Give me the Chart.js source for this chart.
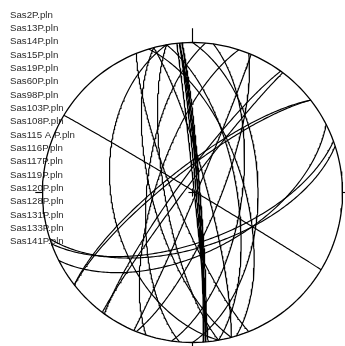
<!DOCTYPE html>
<html>
<head>
<meta charset="utf-8">
<script src="https://cdn.jsdelivr.net/npm/chart.js@4/dist/chart.umd.min.js"></script>
<style>
  html, body { margin: 0; padding: 0; background: #fff; }
</style>
</head>
<body>
<canvas id="net" width="345" height="346"></canvas>
<script>
// plane files listed next to the net
const fileNames = [
  "Sas2P.pln", "Sas13P.pln", "Sas14P.pln", "Sas15P.pln", "Sas19P.pln",
  "Sas60P.pln", "Sas98P.pln", "Sas103P.pln", "Sas108P.pln", "Sas115 A P.pln",
  "Sas116P.pln", "Sas117P.pln", "Sas119P.pln", "Sas120P.pln", "Sas128P.pln",
  "Sas131P.pln", "Sas133P.pln", "Sas141P.pln"
];

// planes as dip direction / dip (degrees)
const dipDirs = [85, 85, 86, 86, 85, 84,
                 260, 275, 255, 288, 260,
                 90, 73, 98, 80, 112, 75, 113,
                 307, 306, 322, 322, 31, 160, 162, 153, 248];
const dips    = [88, 87, 87, 86, 86, 89,
                 45, 65, 68, 70, 75,
                 54, 62, 63, 66, 75, 82, 88,
                 86, 82, 76, 78, 89, 63, 60, 57, 80];

const rad = d => d * Math.PI / 180;

// lower hemisphere, equal area (Schmidt) net
function project(x, y, z) {
  const k = 1 / Math.sqrt(1 + Math.abs(z));
  return { x: x * k, y: y * k };
}

function greatCircle(dipDir, dip) {
  const strike = rad(dipDir - 90);
  const dd = rad(dipDir), d = rad(dip);
  const s = [Math.sin(strike), Math.cos(strike), 0];
  const v = [Math.sin(dd) * Math.cos(d), Math.cos(dd) * Math.cos(d), -Math.sin(d)];
  const pts = [];
  for (let i = 0; i <= 180; i++) {
    const t = rad(i);
    const c = Math.cos(t), sn = Math.sin(t);
    pts.push(project(c * s[0] + sn * v[0], c * s[1] + sn * v[1], c * s[2] + sn * v[2]));
  }
  return pts;
}

function primitive() {
  const pts = [];
  for (let i = 0; i <= 360; i += 2) pts.push({ x: Math.sin(rad(i)), y: Math.cos(rad(i)) });
  return pts;
}

const lineStyle = { showLine: true, pointRadius: 0, borderColor: "#000", borderWidth: 1.15, fill: false, clip: false };

const datasets = dipDirs.map((dd, i) => ({ ...lineStyle, data: greatCircle(dd, dips[i]) }));
datasets.push({ ...lineStyle, borderWidth: 1.3, data: primitive() });
// north mark, side ticks and centre cross
datasets.push({ ...lineStyle, data: [{ x: 0, y: 1 }, { x: 0, y: 1.095 }] });
datasets.push({ ...lineStyle, data: [{ x: -1, y: 0 }, { x: -1.048, y: 0 }] });
datasets.push({ ...lineStyle, data: [{ x: 1, y: 0 }, { x: 1.048, y: 0 }] });
datasets.push({ ...lineStyle, data: [{ x: 0, y: -1 }, { x: 0, y: -1.048 }] });
datasets.push({ ...lineStyle, data: [{ x: -0.027, y: 0 }, { x: 0.027, y: 0 }] });
datasets.push({ ...lineStyle, data: [{ x: 0, y: -0.027 }, { x: 0, y: 0.027 }] });

const fileList = {
  id: "fileList",
  beforeDatasetsDraw(chart) {
    const ctx = chart.ctx;
    ctx.save();
    ctx.font = "9.7px 'Liberation Sans', Arial, sans-serif";
    ctx.fillStyle = "#2a2a2a";
    ctx.textBaseline = "middle";
    fileNames.forEach((name, i) => ctx.fillText(name, 10, 15 + i * 13.33));
    ctx.restore();
  }
};

new Chart(document.getElementById("net"), {
  type: "scatter",
  data: { datasets },
  options: {
    responsive: false,
    animation: false,
    layout: { padding: { left: 42.5, right: 2.5, top: 42.5, bottom: 3.5 } },
    scales: {
      x: { display: false, min: -1, max: 1 },
      y: { display: false, min: -1, max: 1 }
    },
    plugins: { legend: { display: false }, tooltip: { enabled: false } }
  },
  plugins: [fileList]
});
</script>
</body>
</html>
